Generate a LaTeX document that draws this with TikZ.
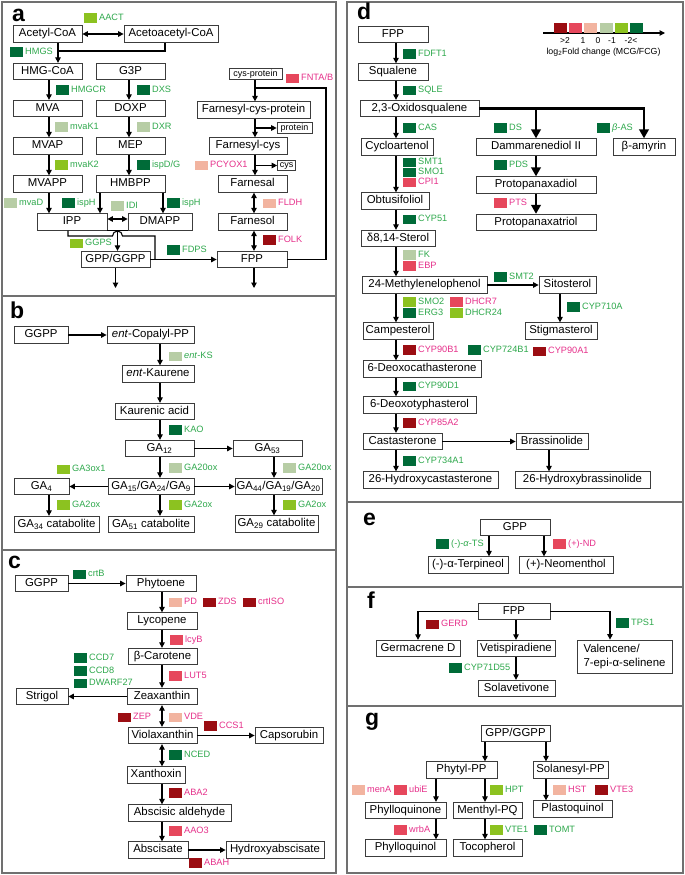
\documentclass[tikz,border=0pt]{standalone}
\usepackage{fontspec}
\setmainfont{Liberation Sans}
\usetikzlibrary{arrows.meta,calc}
\definecolor{cA}{HTML}{9B0D12}
\definecolor{cB}{HTML}{E6475C}
\definecolor{cC}{HTML}{F2B4A0}
\definecolor{cD}{HTML}{B7CDA5}
\definecolor{cE}{HTML}{8CC220}
\definecolor{cF}{HTML}{006B38}
\definecolor{tG}{HTML}{2EA84C}
\definecolor{tM}{HTML}{E5308A}
\definecolor{bord}{HTML}{3C3C3C}
\definecolor{pbord}{HTML}{707070}
\tikzset{
  nbox/.style={draw=bord, fill=white, line width=0.8pt, inner sep=0pt, minimum height=16.5pt,
    font=\fontsize{11.4}{13}\selectfont, text height=8.3pt, text depth=2.4pt},
  mbox/.style={draw=bord, fill=white, line width=0.8pt, inner sep=0pt,
    font=\fontsize{11.4}{13.5}\selectfont, align=left},
  sbox/.style={draw=bord, fill=white, line width=0.7pt, inner sep=0pt, minimum height=10.5pt,
    font=\fontsize{9}{10}\selectfont, text height=6.6pt, text depth=1.9pt},
  swatch/.style={draw=none, inner sep=0pt, minimum width=12.5pt, minimum height=9.6pt},
  glab/.style={anchor=west, inner sep=0pt, font=\fontsize{9.2}{10}\selectfont, text height=6.8pt, text depth=1.9pt},
  lnk/.style={line width=1.1pt, draw=black},
  arr/.style={lnk, -{Triangle[length=5.5pt,width=5.5pt]}},
  darr/.style={lnk, {Triangle[length=5.5pt,width=5.5pt]}-{Triangle[length=5.5pt,width=5.5pt]}},
  thk/.style={line width=2.7pt, draw=black},
  thkarr/.style={thk, -{Triangle[length=9pt,width=9.5pt]}},
  pframe/.style={draw=pbord, line width=1.3pt},
  plab/.style={anchor=base west, inner sep=0pt, font=\fontsize{23}{25}\selectfont\bfseries},
  legt/.style={inner sep=0pt, font=\fontsize{8.5}{9}\selectfont},
}
\newcommand{\bxn}[5]{\node[nbox,minimum width=#4pt] (#1) at (#2,#3) {#5};}
\newcommand{\sbxn}[5]{\node[sbox,minimum width=#4pt] (#1) at (#2,#3) {#5};}
\newcommand{\gene}[6]{\node[swatch,fill=#4] (#1s) at ({#2+6.25},#3) {};
  \node[glab,text=#5] (#1) at ({#2+15},#3) {#6};}
\begin{document}
\begin{tikzpicture}[x=1pt,y=-1pt]
\useasboundingbox (0,0) rectangle (685,875);
% panel frames
\draw[pframe] (2,2) rectangle (336,296);
\draw[pframe] (2,296) rectangle (336,550);
\draw[pframe] (2,550) rectangle (336,873);
\draw[pframe] (347,2) rectangle (683,502);
\draw[pframe] (347,502) rectangle (683,587);
\draw[pframe] (347,587) rectangle (683,706);
\draw[pframe] (347,706) rectangle (683,873);
% panel labels
\node[plab] (la) at (12,22) {a};
\node[plab] (lb) at (10,318) {b};
\node[plab] (lc) at (8,568) {c};
\node[plab] (ld) at (357,20) {d};
\node[plab] (le) at (363,525) {e};
\node[plab] (lf) at (367,608) {f};
\node[plab] (lg) at (365,725) {g};

% ================= panel a =================
\bxn{acetyl}{47.5}{34}{69}{Acetyl-CoA}
\bxn{acetoac}{171}{34}{94}{Acetoacetyl-CoA}
\bxn{hmgcoa}{47.5}{71.5}{69}{HMG-CoA}
\bxn{gthreep}{130.5}{71.5}{69}{G3P}
\bxn{mva}{47.5}{108.5}{69}{MVA}
\bxn{doxp}{130.5}{108.5}{69}{DOXP}
\bxn{mvap}{47.5}{146}{69}{MVAP}
\bxn{mep}{130.5}{146}{69}{MEP}
\bxn{mvapp}{47.5}{184}{69}{MVAPP}
\bxn{hmbpp}{130.5}{184}{69}{HMBPP}
\bxn{ipp}{72}{222}{70}{IPP}
\bxn{dmapp}{160}{222}{64}{DMAPP}
\bxn{gppa}{115.5}{259.5}{69}{GPP/GGPP}
\bxn{fppa}{252}{259.5}{70}{FPP}
\sbxn{cysprot}{255.5}{74}{53}{cys-protein}
\bxn{fcp}{253.5}{110}{113}{Farnesyl-cys-protein}
\sbxn{protein}{294.5}{128}{35}{protein}
\bxn{fcys}{248}{146}{78}{Farnesyl-cys}
\sbxn{cys}{286.5}{165.5}{18}{cys}
\bxn{farnesal}{252.5}{184}{69}{Farnesal}
\bxn{farnesol}{252.5}{222}{69}{Farnesol}

\draw[darr] (acetyl.east) -- (acetoac.west);
\coordinate (jA) at (58,51);
\draw[lnk] (acetoac.south -| 165,0) |- (jA);
\draw[arr] (acetyl.south -| 58,0) -- (hmgcoa.north -| 58,0);
\draw[arr] (hmgcoa.south -| 49,0) -- (mva.north -| 49,0);
\draw[arr] (mva.south -| 49,0) -- (mvap.north -| 49,0);
\draw[arr] (mvap.south -| 49,0) -- (mvapp.north -| 49,0);
\draw[arr] (mvapp.south -| 49,0) -- (ipp.north -| 49,0);
\draw[arr] (gthreep.south -| 129,0) -- (doxp.north -| 129,0);
\draw[arr] (doxp.south -| 129,0) -- (mep.north -| 129,0);
\draw[arr] (mep.south -| 129,0) -- (hmbpp.north -| 129,0);
\draw[arr] (hmbpp.south -| 100,0) -- (ipp.north -| 100,0);
\draw[arr] (hmbpp.south -| 163,0) -- (dmapp.north -| 163,0);
\draw[darr] (ipp.east |- 0,219) -- (dmapp.west |- 0,219);
\draw[lnk] (ipp.south east) -- (dmapp.south west);
\coordinate (jB) at ($(ipp.south east)!0.5!(dmapp.south west)$);
\draw[arr] (jB) -- (gppa.north -| jB);
\coordinate (jE) at (155,259.5);
\draw[lnk] (ipp.south -| 68,0) -- (68,236) -- (112.5,236) arc[start angle=180,end angle=0,radius=5pt] -- (155,236) -- (jE);
\draw[arr] (gppa.east) -- (fppa.west);
\coordinate (gppout) at (115.5,288);
\draw[arr] (gppa.south) -- (gppout);
\coordinate (fppout) at (254,288);
\draw[arr] (fppa.south -| fppout) -- (fppout);
\draw[arr] (cysprot.south -| 255,0) -- (fcp.north -| 255,0);
\draw[arr] (fcp.south -| 255,0) -- (fcys.north -| 255,0);
\coordinate (jP) at (255,128);
\draw[arr] (jP) -- (protein.west);
\draw[arr] (fcys.south -| 255,0) -- (farnesal.north -| 255,0);
\coordinate (jC) at (255,165.5);
\draw[arr] (jC) -- (cys.west);
\draw[darr] (farnesal.south -| 254,0) -- (farnesol.north -| 254,0);
\draw[darr] (farnesol.south -| 254,0) -- (fppa.north -| 254,0);
\coordinate (jF) at (255,88);
\draw[lnk] (fppa.east) -| (326,88) -- (jF);

\gene{aact}{84}{18}{cE}{tG}{AACT}
\gene{hmgs}{10}{52}{cF}{tG}{HMGS}
\gene{hmgcr}{56}{90}{cF}{tG}{HMGCR}
\gene{dxs}{137}{90}{cF}{tG}{DXS}
\gene{mvakone}{55}{127}{cD}{tG}{mvaK1}
\gene{dxr}{137}{127}{cD}{tG}{DXR}
\gene{mvaktwo}{55}{165}{cE}{tG}{mvaK2}
\gene{ispdg}{137}{165}{cF}{tG}{ispD/G}
\gene{mvad}{4}{203}{cD}{tG}{mvaD}
\gene{isph}{62}{203}{cF}{tG}{ispH}
\gene{idi}{111}{206}{cD}{tG}{IDI}
\gene{isphb}{167}{203}{cF}{tG}{ispH}
\gene{ggps}{70}{243.5}{cE}{tG}{GGPS}
\gene{fdps}{167}{250}{cF}{tG}{FDPS}
\gene{folk}{263}{240}{cA}{tM}{FOLK}
\gene{fldh}{263}{203.5}{cC}{tM}{FLDH}
\gene{pcyox}{195}{165.5}{cC}{tM}{PCYOX1}
\gene{fnta}{286}{78.5}{cB}{tM}{FNTA/B}

% ================= panel b =================
\bxn{ggppb}{41}{335}{54}{GGPP}
\bxn{entcpp}{150.5}{335}{87}{\textit{ent}-Copalyl-PP}
\bxn{entkaur}{158}{374}{72}{\textit{ent}-Kaurene}
\bxn{kaur}{154.5}{411.5}{79}{Kaurenic acid}
\bxn{gatwelve}{159.5}{448.5}{69}{GA\textsubscript{12}}
\bxn{gafiftythree}{267.5}{448.5}{69}{GA\textsubscript{53}}
\bxn{gafifteen}{151}{486.5}{86}{GA\textsubscript{15}/GA\textsubscript{24}/GA\textsubscript{9}}
\bxn{gafour}{41.5}{486.5}{55}{GA\textsubscript{4}}
\bxn{gaffour}{278.5}{486.5}{87}{GA\textsubscript{44}/GA\textsubscript{19}/GA\textsubscript{20}}
\bxn{gatf}{56.5}{524.5}{85}{GA\textsubscript{34} catabolite}
\bxn{gafo}{151}{524.5}{86}{GA\textsubscript{51} catabolite}
\bxn{gatn}{276.5}{524}{83}{GA\textsubscript{29} catabolite}

\draw[arr] (ggppb.east) -- (entcpp.west);
\draw[arr] (entcpp.south -| 160,0) -- (entkaur.north -| 160,0);
\draw[arr] (entkaur.south -| 160,0) -- (kaur.north -| 160,0);
\draw[arr] (kaur.south -| 160,0) -- (gatwelve.north -| 160,0);
\draw[arr] (gatwelve.east) -- (gafiftythree.west);
\draw[arr] (gatwelve.south -| 160,0) -- (gafifteen.north -| 160,0);
\draw[arr] (gafiftythree.south -| 274,0) -- (gaffour.north -| 274,0);
\draw[arr] (gafifteen.west) -- (gafour.east);
\draw[arr] (gafifteen.east) -- (gaffour.west);
\draw[arr] (gafour.south -| 49,0) -- (gatf.north -| 49,0);
\draw[arr] (gafifteen.south -| 160,0) -- (gafo.north -| 160,0);
\draw[arr] (gaffour.south -| 274,0) -- (gatn.north -| 274,0);

\gene{entks}{169}{356.5}{cD}{tG}{\textit{ent}-KS}
\gene{kao}{169}{430}{cF}{tG}{KAO}
\gene{gatwox}{169}{468}{cD}{tG}{GA20ox}
\gene{gatwoxb}{283}{468}{cD}{tG}{GA20ox}
\gene{gathox}{57}{469.5}{cE}{tG}{GA3ox1}
\gene{gatoxa}{57}{505}{cE}{tG}{GA2ox}
\gene{gatoxb}{169}{505}{cE}{tG}{GA2ox}
\gene{gatoxc}{283}{505}{cE}{tG}{GA2ox}

% ================= panel c =================
\bxn{ggppc}{41.5}{583.5}{53}{GGPP}
\bxn{phytoene}{161}{583.5}{70}{Phytoene}
\bxn{lycopene}{162}{621}{70}{Lycopene}
\bxn{bcar}{162.5}{656.5}{69}{β-Carotene}
\bxn{zeax}{162}{696.5}{70}{Zeaxanthin}
\bxn{strigol}{42}{696.5}{52}{Strigol}
\bxn{violax}{162.5}{735.5}{69}{Violaxanthin}
\bxn{capso}{289}{735.5}{68}{Capsorubin}
\bxn{xanth}{156}{775}{58}{Xanthoxin}
\bxn{abald}{179.5}{813}{103}{Abscisic aldehyde}
\bxn{absc}{158}{850}{60}{Abscisate}
\bxn{hydabs}{275}{850}{98}{Hydroxyabscisate}

\draw[arr] (ggppc.east) -- (phytoene.west);
\draw[arr] (phytoene.south -| 162,0) -- (lycopene.north -| 162,0);
\draw[arr] (lycopene.south -| 162,0) -- (bcar.north -| 162,0);
\draw[arr] (bcar.south -| 162,0) -- (zeax.north -| 162,0);
\draw[arr] (zeax.west) -- (strigol.east);
\draw[darr] (zeax.south -| 162,0) -- (violax.north -| 162,0);
\draw[arr] (violax.east) -- (capso.west);
\draw[darr] (violax.south -| 162,0) -- (xanth.north -| 162,0);
\draw[arr] (xanth.south -| 162,0) -- (abald.north -| 162,0);
\draw[arr] (abald.south -| 162,0) -- (absc.north -| 162,0);
\draw[arr] (absc.east) -- (hydabs.west);

\gene{crtb}{73}{574.5}{cF}{tG}{crtB}
\gene{pd}{169}{602.5}{cC}{tM}{PD}
\gene{zds}{203}{602.5}{cA}{tM}{ZDS}
\gene{crtiso}{243}{602.5}{cA}{tM}{crtISO}
\gene{lcyb}{170}{640}{cB}{tM}{lcyB}
\gene{ccdseven}{74}{658}{cF}{tG}{CCD7}
\gene{ccdeight}{74}{671}{cF}{tG}{CCD8}
\gene{dwarf}{74}{683.5}{cF}{tG}{DWARF27}
\gene{lut}{169}{676}{cB}{tM}{LUT5}
\gene{zep}{118}{717.5}{cA}{tM}{ZEP}
\gene{vde}{169}{717.5}{cC}{tM}{VDE}
\gene{ccs}{204}{726}{cA}{tM}{CCS1}
\gene{nced}{169}{755}{cF}{tG}{NCED}
\gene{abatwo}{169}{793}{cA}{tM}{ABA2}
\gene{aao}{169}{831}{cB}{tM}{AAO3}
\gene{abah}{189}{863}{cA}{tM}{ABAH}

% ================= panel d =================
\bxn{fppd}{393}{34.5}{70}{FPP}
\bxn{squal}{393}{72}{70}{Squalene}
\bxn{oxido}{419.5}{108.5}{119}{2,3-Oxidosqualene}
\bxn{cyclo}{397}{147}{72}{Cycloartenol}
\bxn{dammar}{536}{147}{120}{Dammarenediol II}
\bxn{bamyrin}{644}{147}{62}{β-amyrin}
\bxn{obtus}{395}{201}{68}{Obtusifoliol}
\bxn{ppd}{536}{185}{120}{Protopanaxadiol}
\bxn{ppt}{536}{222.5}{120}{Protopanaxatriol}
\bxn{deltas}{398}{238.5}{74}{δ8,14-Sterol}
\bxn{methyl}{424.5}{285}{125}{24-Methylenelophenol}
\bxn{sitos}{567.5}{285}{57}{Sitosterol}
\bxn{campes}{398}{331}{70}{Campesterol}
\bxn{stigmas}{561}{331}{72}{Stigmasterol}
\bxn{deoxocath}{422}{369}{118}{6-Deoxocathasterone}
\bxn{deoxotyph}{419.5}{405}{113}{6-Deoxotyphasterol}
\bxn{castas}{402.5}{441.5}{79}{Castasterone}
\bxn{brassin}{552}{441.5}{72}{Brassinolide}
\bxn{hcast}{430.5}{480}{135}{26-Hydroxycastasterone}
\bxn{hbrass}{582.5}{480}{135}{26-Hydroxybrassinolide}

\draw[arr] (fppd.south -| 396,0) -- (squal.north -| 396,0);
\draw[arr] (squal.south -| 396,0) -- (oxido.north -| 396,0);
\draw[arr] (oxido.south -| 396,0) -- (cyclo.north -| 396,0);
\draw[arr] (cyclo.south -| 396,0) -- (obtus.north -| 396,0);
\draw[arr] (obtus.south -| 396,0) -- (deltas.north -| 396,0);
\draw[arr] (deltas.south -| 396,0) -- (methyl.north -| 396,0);
\draw[arr] (methyl.south -| 396,0) -- (campes.north -| 396,0);
\draw[arr] (campes.south -| 396,0) -- (deoxocath.north -| 396,0);
\draw[arr] (deoxocath.south -| 396,0) -- (deoxotyph.north -| 396,0);
\draw[arr] (deoxotyph.south -| 396,0) -- (castas.north -| 396,0);
\draw[arr] (castas.south -| 396,0) -- (hcast.north -| 396,0);
\draw[thkarr] (oxido.east) -| (bamyrin.north);
\coordinate (jD) at (536,108.5);
\draw[thkarr] (jD) -- (dammar.north);
\draw[thkarr] (dammar.south) -- (ppd.north);
\draw[thkarr] (ppd.south) -- (ppt.north);
\draw[arr] (methyl.east) -- (sitos.west);
\draw[arr] (sitos.south -| 560,0) -- (stigmas.north -| 560,0);
\draw[arr] (castas.east) -- (brassin.west);
\draw[arr] (brassin.south -| 549,0) -- (hbrass.north -| 549,0);

\gene{fdft}{403}{54}{cF}{tG}{FDFT1}
\gene{sqle}{403}{90.5}{cF}{tG}{SQLE}
\gene{cas}{403}{128}{cF}{tG}{CAS}
\gene{ds}{494}{128}{cF}{tG}{DS}
\gene{bas}{597}{128}{cF}{tG}{\textit{β}-AS}
\gene{smtone}{403}{162.5}{cF}{tG}{SMT1}
\gene{smoone}{403}{172.5}{cF}{tG}{SMO1}
\gene{cpi}{403}{182.5}{cB}{tM}{CPI1}
\gene{pds}{494}{165}{cF}{tG}{PDS}
\gene{pts}{494}{203}{cB}{tM}{PTS}
\gene{cypfiftyone}{403}{219.5}{cF}{tG}{CYP51}
\gene{fk}{403}{255}{cD}{tG}{FK}
\gene{ebp}{403}{266}{cB}{tM}{EBP}
\gene{smttwo}{494}{277}{cF}{tG}{SMT2}
\gene{cypseven}{567}{307}{cF}{tG}{CYP710A}
\gene{smotwo}{403}{302}{cE}{tG}{SMO2}
\gene{ergthree}{403}{313}{cF}{tG}{ERG3}
\gene{dhcrseven}{450}{302}{cB}{tM}{DHCR7}
\gene{dhcrtf}{450}{313}{cE}{tG}{DHCR24}
\gene{cypnb}{403}{350}{cA}{tM}{CYP90B1}
\gene{cypsev}{468}{350}{cF}{tG}{CYP724B1}
\gene{cypna}{533}{351.5}{cA}{tM}{CYP90A1}
\gene{cypnd}{403}{386.5}{cF}{tG}{CYP90D1}
\gene{cypeight}{403}{423}{cA}{tM}{CYP85A2}
\gene{cypsevthree}{403}{461}{cF}{tG}{CYP734A1}

% legend
\coordinate (lgL) at (543,33);
\coordinate (lgR) at (665,33);
\draw[arr] (lgL) -- (lgR);
\node[swatch,fill=cA,minimum width=13pt,minimum height=10pt,anchor=south] (lgA) at (560.5,33) {};
\node[swatch,fill=cB,minimum width=13pt,minimum height=10pt,anchor=south] (lgB) at (575.7,33) {};
\node[swatch,fill=cC,minimum width=13pt,minimum height=10pt,anchor=south] (lgC) at (590.9,33) {};
\node[swatch,fill=cD,minimum width=13pt,minimum height=10pt,anchor=south] (lgD) at (606.1,33) {};
\node[swatch,fill=cE,minimum width=13pt,minimum height=10pt,anchor=south] (lgE) at (621.3,33) {};
\node[swatch,fill=cF,minimum width=13pt,minimum height=10pt,anchor=south] (lgF) at (636.5,33) {};
\node[legt] (lgtA) at (565,40.5) {>2};
\node[legt] (lgtB) at (583,40.5) {1};
\node[legt] (lgtC) at (598,40.5) {0};
\node[legt] (lgtD) at (612,40.5) {-1};
\node[legt] (lgtE) at (631,40.5) {-2<};
\node[legt,font=\fontsize{8.8}{10}\selectfont] (lgtitle) at (603.5,52) {log\textsubscript{2}Fold change (MCG/FCG)};

% ================= panel e =================
\bxn{gppe}{515}{527.5}{70}{GPP}
\bxn{terp}{468}{565}{80}{(-)-α-Terpineol}
\bxn{neom}{566}{565}{94}{(+)-Neomenthol}
\draw[arr] (gppe.south -| 489,0) -- (terp.north -| 489,0);
\draw[arr] (gppe.south -| 544,0) -- (neom.north -| 544,0);
\gene{ats}{436}{544}{cF}{tG}{(-)-\textit{α}-TS}
\gene{nd}{553}{544}{cB}{tM}{(+)-ND}

% ================= panel f =================
\bxn{fppf}{514}{611.5}{72}{FPP}
\bxn{germ}{418}{648.5}{84}{Germacrene D}
\bxn{vetis}{516}{648.5}{78}{Vetispiradiene}
\node[mbox,minimum width=95pt,minimum height=33pt] (valen) at (624.5,656.5) {Valencene/\\7-epi-α-selinene};
\bxn{solav}{516.5}{688.5}{77}{Solavetivone}
\draw[arr] (fppf.west) -| (germ.north);
\draw[arr] (fppf.east) -| (valen.north -| 610,0);
\draw[arr] (fppf.south -| 516,0) -- (vetis.north -| 516,0);
\draw[arr] (vetis.south -| 516,0) -- (solav.north -| 516,0);
\gene{gerd}{426}{624.5}{cA}{tM}{GERD}
\gene{tpsone}{616}{623}{cF}{tG}{TPS1}
\gene{cypsevone}{449}{668}{cF}{tG}{CYP71D55}

% ================= panel g =================
\bxn{gppg}{515.5}{733.5}{69}{GPP/GGPP}
\bxn{phytyl}{461.5}{770}{71}{Phytyl-PP}
\bxn{solan}{570.5}{770}{75}{Solanesyl-PP}
\bxn{phyllone}{405.5}{810.5}{81}{Phylloquinone}
\bxn{menthyl}{487.5}{810.5}{69}{Menthyl-PQ}
\bxn{plasto}{572.5}{809}{79}{Plastoquinol}
\bxn{phyllol}{405.5}{848}{81}{Phylloquinol}
\bxn{tocoph}{487.5}{848}{69}{Tocopherol}
\draw[arr] (gppg.south -| 485,0) -- (phytyl.north -| 485,0);
\draw[arr] (gppg.south -| 546,0) -- (solan.north -| 546,0);
\draw[arr] (phytyl.south -| 436,0) -- (phyllone.north -| 436,0);
\draw[arr] (phytyl.south -| 485,0) -- (menthyl.north -| 485,0);
\draw[arr] (solan.south -| 546,0) -- (plasto.north -| 546,0);
\draw[arr] (phyllone.south -| 436,0) -- (phyllol.north -| 436,0);
\draw[arr] (menthyl.south -| 485,0) -- (tocoph.north -| 485,0);
\gene{mena}{352}{790}{cC}{tM}{menA}
\gene{ubie}{394}{790}{cB}{tM}{ubiE}
\gene{hpt}{490}{790}{cE}{tG}{HPT}
\gene{hst}{553}{790}{cC}{tM}{HST}
\gene{vtethree}{595}{790}{cA}{tM}{VTE3}
\gene{wrba}{394}{830}{cB}{tM}{wrbA}
\gene{vteone}{490}{830}{cE}{tG}{VTE1}
\gene{tomt}{534}{830}{cF}{tG}{TOMT}
\end{tikzpicture}
\end{document}
